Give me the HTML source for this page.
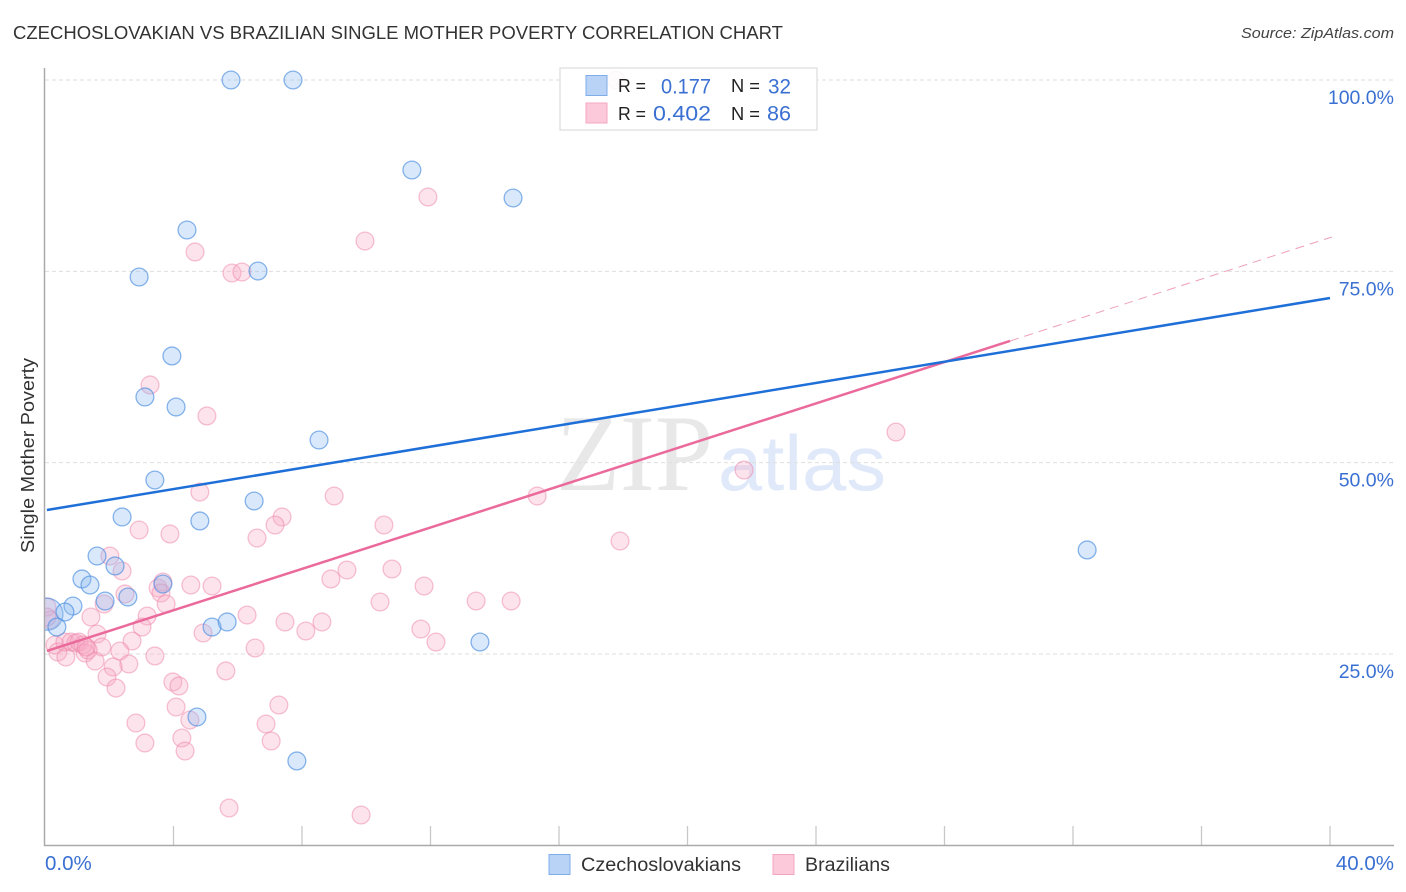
<!DOCTYPE html>
<html>
<head>
<meta charset="utf-8">
<title>Czechoslovakian vs Brazilian Single Mother Poverty Correlation Chart</title>
<style>
html,body{margin:0;padding:0;background:#fff;}
svg{display:block;font-family:"Liberation Sans",sans-serif;}
</style>
</head>
<body>
<svg id="chart" xmlns="http://www.w3.org/2000/svg" width="1406" height="892" viewBox="0 0 1406 892">
  <defs>
    <clipPath id="plot-clip"><rect x="45" y="60" width="1350" height="785"/></clipPath>
  </defs>
  <rect x="0" y="0" width="1406" height="892" fill="#fff"/>
  <text x="13" y="39" font-size="18" fill="#333" textLength="770" lengthAdjust="spacingAndGlyphs">CZECHOSLOVAKIAN VS BRAZILIAN SINGLE MOTHER POVERTY CORRELATION CHART</text>
  <text x="1394" y="38" font-size="15" font-style="italic" fill="#444" text-anchor="end" textLength="153" lengthAdjust="spacingAndGlyphs">Source: ZipAtlas.com</text>
  <g>
    <text x="556" y="490" font-family="'Liberation Serif',serif" font-size="109" fill="#e8e8e8" textLength="157" lengthAdjust="spacingAndGlyphs">ZIP</text>
    <text x="718" y="490" font-size="78" fill="#dfe9f9" textLength="168" lengthAdjust="spacingAndGlyphs">atlas</text>
  </g>
  <g id="grid"></g>
  <g id="ticks"></g>
  <line x1="44.5" y1="68" x2="44.5" y2="846" stroke="#aaa" stroke-width="1.5"/>
  <line x1="44" y1="845.5" x2="1394" y2="845.5" stroke="#aaa" stroke-width="1.5"/>
  <g id="points" clip-path="url(#plot-clip)"></g>
  <g id="trends"></g>
  <g id="ylabels"></g>
  <g id="xlabels"></g>
  <text transform="translate(34,553) rotate(-90)" font-size="18" fill="#333" textLength="195" lengthAdjust="spacingAndGlyphs">Single Mother Poverty</text>

  <g>
    <rect x="560" y="68" width="257" height="62" fill="#fff" fill-opacity="0.88" stroke="#ddd" stroke-width="1.2"/>
    <rect x="586" y="75.5" width="21" height="20" fill="#b9d3f7" stroke="#7fadea" stroke-width="1"/>
    <rect x="586" y="103" width="21" height="20" fill="#fcc9da" stroke="#f4a6c0" stroke-width="1"/>
    <text x="618" y="92" font-size="18" fill="#222" textLength="28" lengthAdjust="spacingAndGlyphs">R =</text>
    <text x="661" y="93.5" font-size="21" fill="#3a70d2" textLength="50" lengthAdjust="spacingAndGlyphs">0.177</text>
    <text x="731" y="92" font-size="18" fill="#222" textLength="29" lengthAdjust="spacingAndGlyphs">N =</text>
    <text x="768" y="93.5" font-size="21" fill="#3a70d2" textLength="23" lengthAdjust="spacingAndGlyphs">32</text>
    <text x="618" y="120" font-size="18" fill="#222" textLength="28" lengthAdjust="spacingAndGlyphs">R =</text>
    <text x="653" y="120.5" font-size="21" fill="#3a70d2" textLength="58" lengthAdjust="spacingAndGlyphs">0.402</text>
    <text x="731" y="120" font-size="18" fill="#222" textLength="29" lengthAdjust="spacingAndGlyphs">N =</text>
    <text x="767" y="120.5" font-size="21" fill="#3a70d2" textLength="24" lengthAdjust="spacingAndGlyphs">86</text>
  </g>

  <g>
    <rect x="549" y="854.5" width="21" height="20" fill="#b9d3f7" stroke="#7fadea" stroke-width="1"/>
    <text x="581" y="871" font-size="19" fill="#333" textLength="160" lengthAdjust="spacingAndGlyphs">Czechoslovakians</text>
    <rect x="773" y="854.5" width="21" height="20" fill="#fcc9da" stroke="#f4a6c0" stroke-width="1"/>
    <text x="805" y="871" font-size="19" fill="#333" textLength="85" lengthAdjust="spacingAndGlyphs">Brazilians</text>
  </g>
</svg>
<script>
var yTickValues = [100, 75, 50, 25];
var yTickLabels = ["100.0%", "75.0%", "50.0%", "25.0%"];
var xTickValues = [4, 8, 12, 16, 20, 24, 28, 32, 36, 40];
var xEndValues = [0, 40];
var xEndLabels = ["0.0%", "40.0%"];

var czechX = [5.79,7.72,11.42,14.57,4.42,6.63,2.93,3.95,3.11,4.08,8.53,3.42,6.51,4.82,2.40,1.62,2.18,1.15,1.40,3.67,1.87,2.58,0.87,0.62,0.37,5.20,5.67,13.54,4.73,7.84,32.44];
var czechY = [100,100,88.24,84.58,80.4,75.04,74.26,63.94,58.58,57.27,52.96,47.73,44.99,42.38,42.9,37.8,36.5,34.8,34.01,34.14,31.92,32.44,31.27,30.48,28.52,28.52,29.18,26.56,16.76,11.02,38.59];
var czechAggregateX = [0.06];
var czechAggregateY = [30.2];

var brazilX = [17.77,11.92,9.96,4.67,5.82,6.13,3.27,5.04,26.49,21.76,9.0,4.82,15.32,7.38,7.16,10.55,2.93,3.89,6.6,17.9,2.02,2.4,9.4,10.8,8.9,11.8,4.54,5.2,3.52,3.67,2.49,3.61,10.43,13.42,14.51,3.77,1.84,6.29,3.18,1.43,7.47,8.62,3.02,8.12,11.7,12.17,4.92,1.62,2.71,6.54,1.77,2.33,3.42,2.61,2.12,5.63,1.93,3.98,4.17,2.21,7.28,4.08,2.83,6.88,4.51,4.26,7.04,3.11,4.36,5.73,9.84,0.06,0.16,0.06,0.31,0.4,0.65,0.62,0.81,0.96,1.06,1.18,1.25,1.34,1.56,1.28];
var brazilY = [100,84.71,78.96,77.53,74.78,74.91,60.15,56.1,54.0,49.04,45.64,46.16,45.64,42.9,41.85,41.85,41.2,40.68,40.15,39.76,37.8,35.84,35.97,36.1,34.8,33.88,34.01,33.88,33.62,34.4,32.84,32.97,31.79,31.92,31.92,31.53,31.53,30.09,29.96,29.83,29.18,29.18,28.52,28.0,28.26,26.56,27.74,27.61,26.69,25.78,25.91,25.39,24.74,23.69,23.3,22.78,21.99,21.34,20.82,20.55,18.33,18.07,15.98,15.85,16.37,14.02,13.63,13.37,12.32,4.87,3.96,31.14,29.44,29.83,26.17,25.26,24.6,26.56,26.56,26.43,26.56,26.17,25.13,25.52,24.08,25.91];

var czechTrendX = [0.06, 40];
var czechTrendY = [43.81, 71.51];
var brazilTrendX = [0.06, 30.04];
var brazilTrendY = [25.39, 65.9];
var brazilTrendExtX = [30.04, 40.06];
var brazilTrendExtY = [65.9, 79.49];

var NS = "http://www.w3.org/2000/svg";
function xScale(v) { return 45 + v * 32.125; }
function yScale(v) { return 80 + (100 - v) * 7.653; }
function make(tag, attrs, parent) {
  var el = document.createElementNS(NS, tag);
  for (var k in attrs) { el.setAttribute(k, attrs[k]); }
  parent.appendChild(el);
  return el;
}

var gridG = document.getElementById("grid");
var ylabelG = document.getElementById("ylabels");
yTickValues.forEach(function (v, i) {
  var gl = make("line", {x1: 45, x2: 1394, y1: yScale(v), y2: yScale(v), stroke: "#dedede", "stroke-width": 1, "stroke-dasharray": "4 3"}, gridG);
  
  
  var t = make("text", {x: 1394, y: yScale(v) + 24, "font-size": 19.5, fill: "#3a70d2", "text-anchor": "end"}, ylabelG);
  t.textContent = yTickLabels[i];
  
  
});

var tickG = document.getElementById("ticks");
xTickValues.forEach(function (v) {
  var tk = make("line", {x1: xScale(v), x2: xScale(v), y1: 826, y2: 845, stroke: "#c8c8c8", "stroke-width": 1.3}, tickG);
  
  
});

var xlabelG = document.getElementById("xlabels");
xEndValues.forEach(function (v, i) {
  var t = make("text", {x: i === 0 ? xScale(v) : 1394, y: 870, "font-size": 20.5, fill: "#3a70d2", "text-anchor": i === 0 ? "start" : "end"}, xlabelG);
  t.textContent = xEndLabels[i];
  
  
});

var pointG = document.getElementById("points");
brazilX.forEach(function (v, i) {
  var c = make("circle", {cx: xScale(v), cy: yScale(brazilY[i]), r: 8.9, fill: "#f9a8c4", "fill-opacity": 0.32, stroke: "#ee86a9", "stroke-opacity": 0.5, "stroke-width": 1.3}, pointG);
  
  
});
czechAggregateX.forEach(function (v, i) {
  var c = make("circle", {cx: xScale(v), cy: yScale(czechAggregateY[i]), r: 16, fill: "#8db8f0", "fill-opacity": 0.33, stroke: "#4a8de0", "stroke-opacity": 0.6, "stroke-width": 1.3}, pointG);
  
  
});
czechX.forEach(function (v, i) {
  var c = make("circle", {cx: xScale(v), cy: yScale(czechY[i]), r: 8.9, fill: "#8db8f0", "fill-opacity": 0.33, stroke: "#4a8de0", "stroke-opacity": 0.65, "stroke-width": 1.3}, pointG);
  
  
});

var trendG = document.getElementById("trends");
var bt = make("line", {x1: xScale(brazilTrendX[0]), y1: yScale(brazilTrendY[0]), x2: xScale(brazilTrendX[1]), y2: yScale(brazilTrendY[1]), stroke: "#ea6a9b", "stroke-width": 2.5}, trendG);


var bd = make("line", {x1: xScale(brazilTrendExtX[0]), y1: yScale(brazilTrendExtY[0]), x2: xScale(brazilTrendExtX[1]), y2: yScale(brazilTrendExtY[1]), stroke: "#eda0ba", "stroke-width": 1, "stroke-dasharray": "9 6"}, trendG);


var ct = make("line", {x1: xScale(czechTrendX[0]), y1: yScale(czechTrendY[0]), x2: xScale(czechTrendX[1]), y2: yScale(czechTrendY[1]), stroke: "#1f6fd8", "stroke-width": 2.5}, trendG);


</script>
</body>
</html>
